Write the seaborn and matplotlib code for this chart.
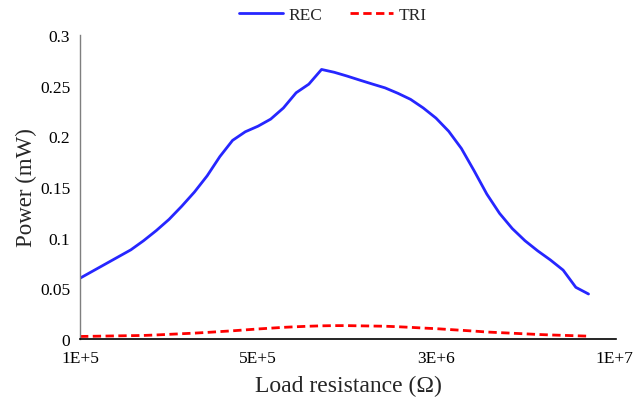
import numpy as np
import pandas as pd
import matplotlib
matplotlib.use("Agg")
import matplotlib.pyplot as plt
import seaborn as sns

# Data (category index along the resistance axis, 41 sampled points)
point_index = list(range(41))
rec_power = [0.060, 0.067, 0.074, 0.081, 0.088, 0.097, 0.107, 0.118, 0.131, 0.145,
             0.161, 0.180, 0.196, 0.2045, 0.2100, 0.217, 0.228, 0.243, 0.2515, 0.2660,
             0.2632, 0.2595, 0.2555, 0.2516, 0.2478, 0.2425, 0.2365, 0.228, 0.218, 0.205,
             0.188, 0.166, 0.143, 0.124, 0.109, 0.097, 0.087, 0.078, 0.068, 0.051, 0.0444]
tri_power = [0.0025, 0.0027, 0.0029, 0.0031, 0.0033, 0.0035, 0.0040, 0.0046, 0.0052, 0.0058,
             0.0065, 0.0073, 0.0081, 0.0090, 0.0099, 0.0107, 0.0115, 0.0121, 0.0126, 0.0130,
             0.0132, 0.0132, 0.0130, 0.0128, 0.0126, 0.0121, 0.0115, 0.0108, 0.0102, 0.0094,
             0.0086, 0.0078, 0.0069, 0.0063, 0.0057, 0.0051, 0.0045, 0.0040, 0.0036, 0.0032, 0.0028]
x_tick_pos = [0, 14, 28, 42]
x_tick_labels = ["1E+5", "5E+5", "3E+6", "1E+7"]
y_ticks = [0, 0.05, 0.1, 0.15, 0.2, 0.25, 0.3]
y_tick_labels = ["0", "0.05", "0.1", "0.15", "0.2", "0.25", "0.3"]

sns.set_theme(style="white")
plt.rcParams['font.family'] = ['Liberation Serif', 'DejaVu Serif']

fig = plt.figure(figsize=(6.44, 4.02), dpi=100)
ax = fig.add_axes([80/644, 1-340/402, 536/644, 304/402])

df_rec = pd.DataFrame({"x": point_index, "y": rec_power})
df_tri = pd.DataFrame({"x": point_index, "y": tri_power})

sns.lineplot(data=df_rec, x="x", y="y", ax=ax, color="#2626ff", linewidth=2.0, label="REC")
sns.lineplot(data=df_tri, x="x", y="y", ax=ax, color="#ff0000", linewidth=2.0,
             linestyle=(0, (3, 1.6)), label="TRI")
for ln in ax.get_lines():
    ln.set_solid_joinstyle("round")
    ln.set_dash_joinstyle("round")

ax.set_xlim(0, 42.16)
ax.set_ylim(0, 0.3)
ax.set_xticks(x_tick_pos)
ax.set_xticklabels(x_tick_labels)
ax.set_yticks(y_ticks)
ax.set_yticklabels(y_tick_labels)
ax.tick_params(axis="both", length=0, labelsize=12.5, colors="black")
ax.tick_params(axis="x", pad=8)
ax.tick_params(axis="y", pad=7)

for s in ["top", "right"]:
    ax.spines[s].set_visible(False)
ax.spines["left"].set_color("#7f7f7f")
ax.spines["left"].set_linewidth(1.0)
ax.spines["bottom"].set_color("black")
ax.spines["bottom"].set_linewidth(1.2)

ax.set_xlabel("Load resistance (Ω)", fontsize=17, labelpad=6)
ax.set_ylabel("Power (mW)", fontsize=16.5, labelpad=2)
ax.grid(False)

handles, labels = ax.get_legend_handles_labels()
ax.get_legend().remove()
fig.legend(handles, labels, loc="center", bbox_to_anchor=(333/644, 1-16/402), ncol=2,
           frameon=False, fontsize=12.5, handlelength=2.5, handletextpad=0.3,
           columnspacing=1.6)

fig.savefig("out.png", dpi=100)
